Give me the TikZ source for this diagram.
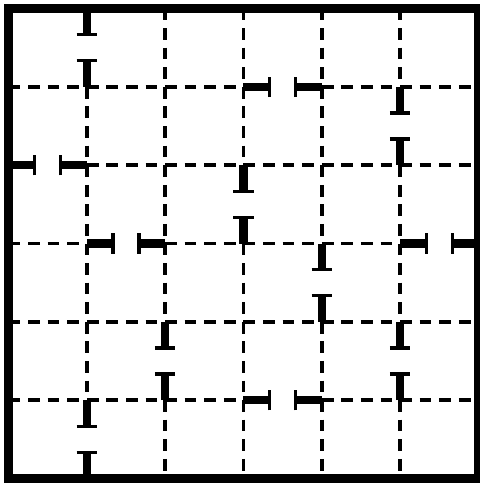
\documentclass[tikz,border=0pt]{standalone}
\tikzset{
  gridline/.style={line width=0.045cm, dash pattern=on 0.15cm off 0.1cm},
  wall/.style={line width=0.115cm, line join=miter},
  stub/.style={line width=0.11cm},
  jamb/.style={line width=0.04cm},
}
\newcommand{\vdoor}[2]{%
  \fill[white] (#1-0.04,#2+0.3) rectangle (#1+0.04,#2+0.7);
  \draw[stub] (#1,#2) -- (#1,#2+0.3333);
  \draw[stub] (#1,#2+1) -- (#1,#2+0.6667);
  \draw[jamb] (#1-0.13,#2+0.3333) -- (#1+0.13,#2+0.3333);
  \draw[jamb] (#1-0.13,#2+0.6667) -- (#1+0.13,#2+0.6667);
}
\newcommand{\hdoor}[2]{%
  \fill[white] (#1+0.3,#2-0.04) rectangle (#1+0.7,#2+0.04);
  \draw[stub] (#1,#2) -- (#1+0.3333,#2);
  \draw[stub] (#1+1,#2) -- (#1+0.6667,#2);
  \draw[jamb] (#1+0.3333,#2-0.13) -- (#1+0.3333,#2+0.13);
  \draw[jamb] (#1+0.6667,#2-0.13) -- (#1+0.6667,#2+0.13);
}
\begin{document}
\begin{tikzpicture}
\useasboundingbox (-0.1086,-0.0575) rectangle (6.009,6.1086);
% dashed grid
\foreach \i in {1,...,5} {
  \draw[gridline] (\i,6) -- (\i,0);
  \draw[gridline] (0,\i) -- (6,\i);
}
% doors
\vdoor{1}{5}
\hdoor{3}{5}
\vdoor{5}{4}
\hdoor{0}{4}
\vdoor{3}{3}
\hdoor{1}{3}
\hdoor{5}{3}
\vdoor{4}{2}
\vdoor{2}{1}
\vdoor{5}{1}
\hdoor{3}{1}
\vdoor{1}{0}
% outer wall
\draw[wall] (0,0) rectangle (6,6);
\end{tikzpicture}
\end{document}
